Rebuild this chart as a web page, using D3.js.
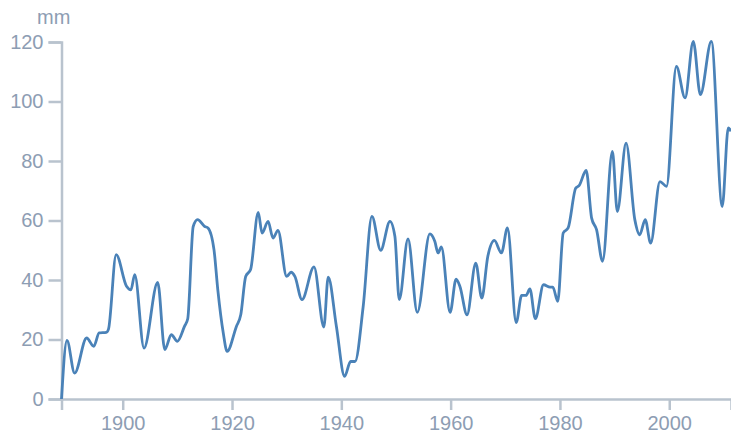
<!DOCTYPE html>
<html>
<head>
<meta charset="utf-8">
<script src="https://cdn.jsdelivr.net/npm/d3@7"></script>
<style>
  body { margin: 0; background: #fff; }
  svg { display: block; font-family: "Liberation Sans", Arial, sans-serif; }
  .axis path, .axis line { stroke: #b9c3ce; stroke-width: 2.5; }
  .axis text { fill: #8d9db3; font-size: 20px; }
</style>
</head>
<body>
<svg width="731" height="434"></svg>
<script>
// sea level change, mm
var years = [1888.8, 1889.8, 1891.2, 1893.4, 1894.7, 1895.7, 1897.0, 1897.4, 1898.8, 1900.7,
    1901.5, 1902.2, 1903.9, 1906.4, 1907.7, 1908.9, 1910.0, 1911.3, 1911.9, 1912.9,
    1913.7, 1915.0, 1915.6, 1916.7, 1917.4, 1918.4, 1919.1, 1920.8, 1921.6, 1922.5,
    1923.4, 1924.8, 1925.5, 1926.6, 1927.5, 1928.4, 1930.0, 1930.8, 1931.5, 1932.8,
    1935.0, 1936.8, 1937.6, 1939.1, 1940.6, 1941.7, 1942.5, 1944.0, 1945.6, 1947.2,
    1948.9, 1949.8, 1950.6, 1952.2, 1953.9, 1956.2, 1957.1, 1957.7, 1958.3, 1959.9,
    1961.0, 1961.7, 1963.0, 1964.6, 1965.7, 1966.8, 1968.0, 1969.3, 1970.4, 1972.0,
    1973.0, 1973.8, 1974.5, 1975.5, 1977.0, 1978.2, 1978.7, 1979.6, 1980.6, 1981.5,
    1982.9, 1983.5, 1984.8, 1985.8, 1986.7, 1987.8, 1989.6, 1990.5, 1992.1, 1993.7,
    1994.6, 1995.6, 1996.6, 1998.3, 1999.5, 2001.3, 2002.9, 2004.4, 2005.7, 2007.7,
    2009.7, 2010.8, 2011.3];
var seaLevel = [0, 19.7, 8.7, 20.5, 17.7, 22.2, 22.4, 23.5, 48.5, 37.9,
    36.7, 41.8, 17.1, 39.2, 16.6, 21.6, 19.4, 24.4, 27, 58,
    60.3, 58, 57.5, 50.2, 36.7, 22.2, 16, 24.4, 28.3, 41.2,
    43.5, 62.7, 55.8, 59.7, 54.1, 56.7, 41.2, 42.6, 41.2, 33.4,
    44.4, 24.2, 41, 24.4, 7.6, 12.6, 12.6, 31.1, 61.4, 50,
    59.7, 54.7, 33.4, 53.8, 29.1, 55.5, 53, 49.1, 51.1, 29.1,
    40.3, 37.8, 28.3, 45.7, 33.9, 47.9, 53.3, 49.1, 57.5, 25.7,
    34.8, 34.8, 37, 27, 38.4, 37.6, 37.6, 32.8, 55.8, 57.5,
    70.9, 71.7, 76.8, 60.8, 56.9, 46.3, 83.2, 63, 86, 60.3,
    55.2, 60.3, 52.4, 73.1, 71.5, 111.8, 101.2, 120.2, 102.3, 120.2,
    64.7, 91.1, 90];
var xTicks = [1900, 1920, 1940, 1960, 1980, 2000];
var yTicks = [0, 20, 40, 60, 80, 100, 120];
var unitLabel = "mm";

var mLeft = 61.5, mTop = 42, mRight = 731, mBottom = 399;

var data = years.map(function(yr, i) { return { year: yr, value: seaLevel[i] }; });

var svg = d3.select("svg");

var x = d3.scaleLinear()
    .domain(d3.extent(years))
    .range([mLeft, mRight]);

var y = d3.scaleLinear()
    .domain([0, 120])
    .range([mBottom, mTop]);

svg.append("g")
    .attr("class", "axis")
    .attr("transform", "translate(0," + mBottom + ")")
    .call(d3.axisBottom(x).tickValues(xTicks).tickFormat(d3.format("d")).tickSize(11).tickPadding(6));

svg.append("g")
    .attr("class", "axis")
    .attr("transform", "translate(" + mLeft + ",0)")
    .call(d3.axisLeft(y).tickValues(yTicks).tickSize(13).tickPadding(5));

svg.append("text")
    .attr("x", 37)
    .attr("y", 24)
    .attr("fill", "#8d9db3")
    .style("font-size", "20px")
    .text(unitLabel);

var line = d3.line()
    .x(function(d) { return x(d.year); })
    .y(function(d) { return y(d.value); })
    .curve(d3.curveMonotoneX);

svg.append("path")
    .datum(data)
    .attr("fill", "none")
    .attr("stroke", "#4a82b8")
    .attr("stroke-width", 2.8)
    .attr("stroke-linejoin", "round")
    .attr("d", line);
</script>
</body>
</html>
